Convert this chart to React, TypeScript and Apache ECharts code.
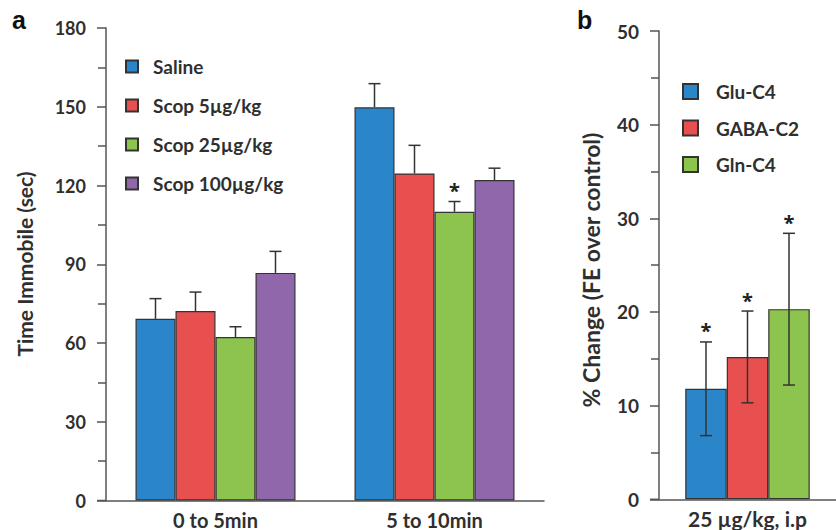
import React, { useEffect, useRef } from "react";
import * as echarts from "echarts";

// ---- Panel a data ----
const categoriesA = ["0 to 5min", "5 to 10min"];
const seriesNamesA = ["Saline", "Scop 5µg/kg", "Scop 25µg/kg", "Scop 100µg/kg"];
const salineA = [69.2, 149.8];
const scop5A = [72.2, 124.6];
const scop25A = [62.3, 110.0];
const scop100A = [86.7, 122.1];
const salineErrA = [7.7, 9.0];
const scop5ErrA = [7.2, 10.7];
const scop25ErrA = [3.9, 3.9];
const scop100ErrA = [8.2, 4.5];
const salineSigA = [0, 0];
const scop5SigA = [0, 0];
const scop25SigA = [0, 1];
const scop100SigA = [0, 0];
const yTicksA = { min: 0, max: 180, interval: 30 };

// ---- Panel b data ----
const categoriesB = ["25 µg/kg, i.p"];
const seriesNamesB = ["Glu-C4", "GABA-C2", "Gln-C4"];
const gluB = [11.8];
const gabaB = [15.2];
const glnB = [20.3];
const gluErrB = [5.0];
const gabaErrB = [4.9];
const glnErrB = [8.1];
const gluSigB = [1];
const gabaSigB = [1];
const glnSigB = [1];
const yTicksB = { min: 0, max: 50, interval: 10 };

const COLORS = ["#2a86c8", "#e8504f", "#8dc44e", "#9067ab"];
const TEXT = "#2f2f2f";
const AXIS = "#555";
const FONT = "Lato, 'Open Sans', sans-serif";
const STAR_FONT = "'Open Sans', 'Noto Sans', sans-serif";
const BAR_W_A = 40;
const BAR_W_B = 41.5;

export default function App() {
  const ref = useRef<HTMLDivElement>(null);
  useEffect(() => {
    if (!ref.current) return;
    const chart = echarts.init(ref.current, undefined, { renderer: "svg" });

    const valsA = [salineA, scop5A, scop25A, scop100A];
    const errsA = [salineErrA, scop5ErrA, scop25ErrA, scop100ErrA];
    const sigsA = [salineSigA, scop5SigA, scop25SigA, scop100SigA];
    const valsB = [gluB, gabaB, glnB];
    const errsB = [gluErrB, gabaErrB, glnErrB];
    const sigsB = [gluSigB, gabaSigB, glnSigB];

    const makeErr = (
      gridIdx: number,
      idx: number,
      n: number,
      barW: number,
      vals: number[],
      errs: number[],
      sigs: number[],
      both: boolean
    ) => ({
      type: "custom",
      xAxisIndex: gridIdx,
      yAxisIndex: gridIdx,
      z: 5,
      silent: true,
      encode: { x: 0, y: 1 },
      data: vals.map((v, i) => [i, v, errs[i], sigs[i]]),
      renderItem: (params: any, api: any) => {
        const cat = api.value(0);
        const v = api.value(1);
        const e = api.value(2);
        const sig = api.value(3);
        const off = (idx - (n - 1) / 2) * barW;
        const mid = api.coord([cat, v]);
        const top = api.coord([cat, v + e]);
        const bot = both ? api.coord([cat, v - e]) : mid;
        const x = mid[0] + off;
        const ls = { stroke: "#333", lineWidth: 1.5 };
        const children: any[] = [
          { type: "line", shape: { x1: x, y1: bot[1], x2: x, y2: top[1] }, style: ls },
          { type: "line", shape: { x1: x - 6, y1: top[1], x2: x + 6, y2: top[1] }, style: ls },
        ];
        if (both) {
          children.push({ type: "line", shape: { x1: x - 6, y1: bot[1], x2: x + 6, y2: bot[1] }, style: ls });
        }
        if (sig) {
          children.push({
            type: "text",
            x: x,
            y: top[1] - 11,
            style: {
              text: "*",
              fill: "#222",
              font: `bold 20px ${STAR_FONT}`,
              textAlign: "center",
              textVerticalAlign: "middle",
            },
          });
        }
        return { type: "group", children };
      },
    });

    const yAxisCommon = (min: number, max: number, interval: number, gridIndex: number, fs: number) => ({
      type: "value",
      gridIndex,
      min,
      max,
      interval,
      axisLine: { show: true, lineStyle: { color: AXIS, width: 1.5 } },
      axisTick: { show: true, inside: false, length: 9, lineStyle: { color: AXIS, width: 1.5 } },
      minorTick: { show: true, splitNumber: 2, length: 8, lineStyle: { color: AXIS, width: 1.5 } },
      splitLine: { show: false },
      minorSplitLine: { show: false },
      axisLabel: { color: TEXT, fontSize: fs, fontWeight: 700, fontFamily: FONT, margin: 20 },
    });

    const xAxisCommon = (data: string[], gridIndex: number, fs: number) => ({
      type: "category",
      gridIndex,
      data,
      axisLine: { show: true, lineStyle: { color: AXIS, width: 1.5 } },
      axisTick: { show: false },
      axisLabel: { color: TEXT, fontSize: fs, fontWeight: 700, fontFamily: FONT, margin: 9 },
    });

    const legendText = (pad: number, lh: number) => ({
      color: TEXT,
      fontSize: 19,
      fontWeight: 700,
      fontFamily: FONT,
      lineHeight: lh,
      padding: [0, 0, 0, pad],
    });

    const option: any = {
      animation: false,
      backgroundColor: "#fff",
      grid: [
        { left: 106, top: 28, width: 438, height: 472.5 },
        { left: 659, top: 31, width: 187, height: 468.3 },
      ],
      xAxis: [xAxisCommon(categoriesA, 0, 20), xAxisCommon(categoriesB, 1, 21)],
      yAxis: [
        yAxisCommon(yTicksA.min, yTicksA.max, yTicksA.interval, 0, 18),
        yAxisCommon(yTicksB.min, yTicksB.max, yTicksB.interval, 1, 19),
      ],
      legend: [
        {
          orient: "vertical",
          left: 125,
          top: 57,
          padding: 0,
          itemWidth: 12,
          itemHeight: 12,
          itemGap: 20,
          icon: "rect",
          data: seriesNamesA,
          textStyle: legendText(10, 12),
        },
        {
          orient: "vertical",
          left: 682,
          top: 82,
          padding: 0,
          itemWidth: 15,
          itemHeight: 15,
          itemGap: 17.5,
          icon: "rect",
          data: seriesNamesB,
          textStyle: legendText(13, 15),
        },
      ],
      series: [
        ...seriesNamesA.map((name, i) => ({
          type: "bar",
          name,
          xAxisIndex: 0,
          yAxisIndex: 0,
          data: valsA[i],
          barWidth: BAR_W_A,
          barGap: "0%",
          itemStyle: { color: COLORS[i], borderColor: "#333", borderWidth: 1.2 },
        })),
        ...seriesNamesB.map((name, i) => ({
          type: "bar",
          name,
          xAxisIndex: 1,
          yAxisIndex: 1,
          data: valsB[i],
          barWidth: BAR_W_B,
          barGap: "0%",
          itemStyle: { color: COLORS[i], borderColor: "#333", borderWidth: 1.2 },
        })),
        ...seriesNamesA.map((_, i) => makeErr(0, i, seriesNamesA.length, BAR_W_A, valsA[i], errsA[i], sigsA[i], false)),
        ...seriesNamesB.map((_, i) => makeErr(1, i, seriesNamesB.length, BAR_W_B, valsB[i], errsB[i], sigsB[i], true)),
      ],
      graphic: [
        {
          type: "line",
          shape: { x1: 97, y1: 500.5, x2: 106, y2: 500.5 },
          style: { stroke: AXIS, lineWidth: 1.5 },
        },
        {
          type: "line",
          shape: { x1: 650, y1: 499.3, x2: 659, y2: 499.3 },
          style: { stroke: AXIS, lineWidth: 1.5 },
        },
        {
          type: "text",
          left: 12,
          top: 7,
          style: { text: "a", fill: "#111", font: "bold 25px 'Liberation Sans', Arial, sans-serif" },
        },
        {
          type: "text",
          left: 577,
          top: 7,
          style: { text: "b", fill: "#111", font: "bold 25px 'Liberation Sans', Arial, sans-serif" },
        },
        {
          type: "text",
          x: 24,
          y: 264,
          rotation: Math.PI / 2,
          style: {
            text: "Time Immobile (sec)",
            fill: TEXT,
            font: `bold 21px ${FONT}`,
            textAlign: "center",
            textVerticalAlign: "middle",
          },
        },
        {
          type: "text",
          x: 591,
          y: 270,
          rotation: Math.PI / 2,
          style: {
            text: "% Change (FE over control)",
            fill: TEXT,
            font: `bold 23px ${FONT}`,
            textAlign: "center",
            textVerticalAlign: "middle",
          },
        },
      ],
    };

    chart.setOption(option);
    return () => chart.dispose();
  }, []);

  return (
    <div
      ref={ref}
      style={{ position: "fixed", left: 0, top: 0, width: 836, height: 530, background: "#fff" }}
    />
  );
}
